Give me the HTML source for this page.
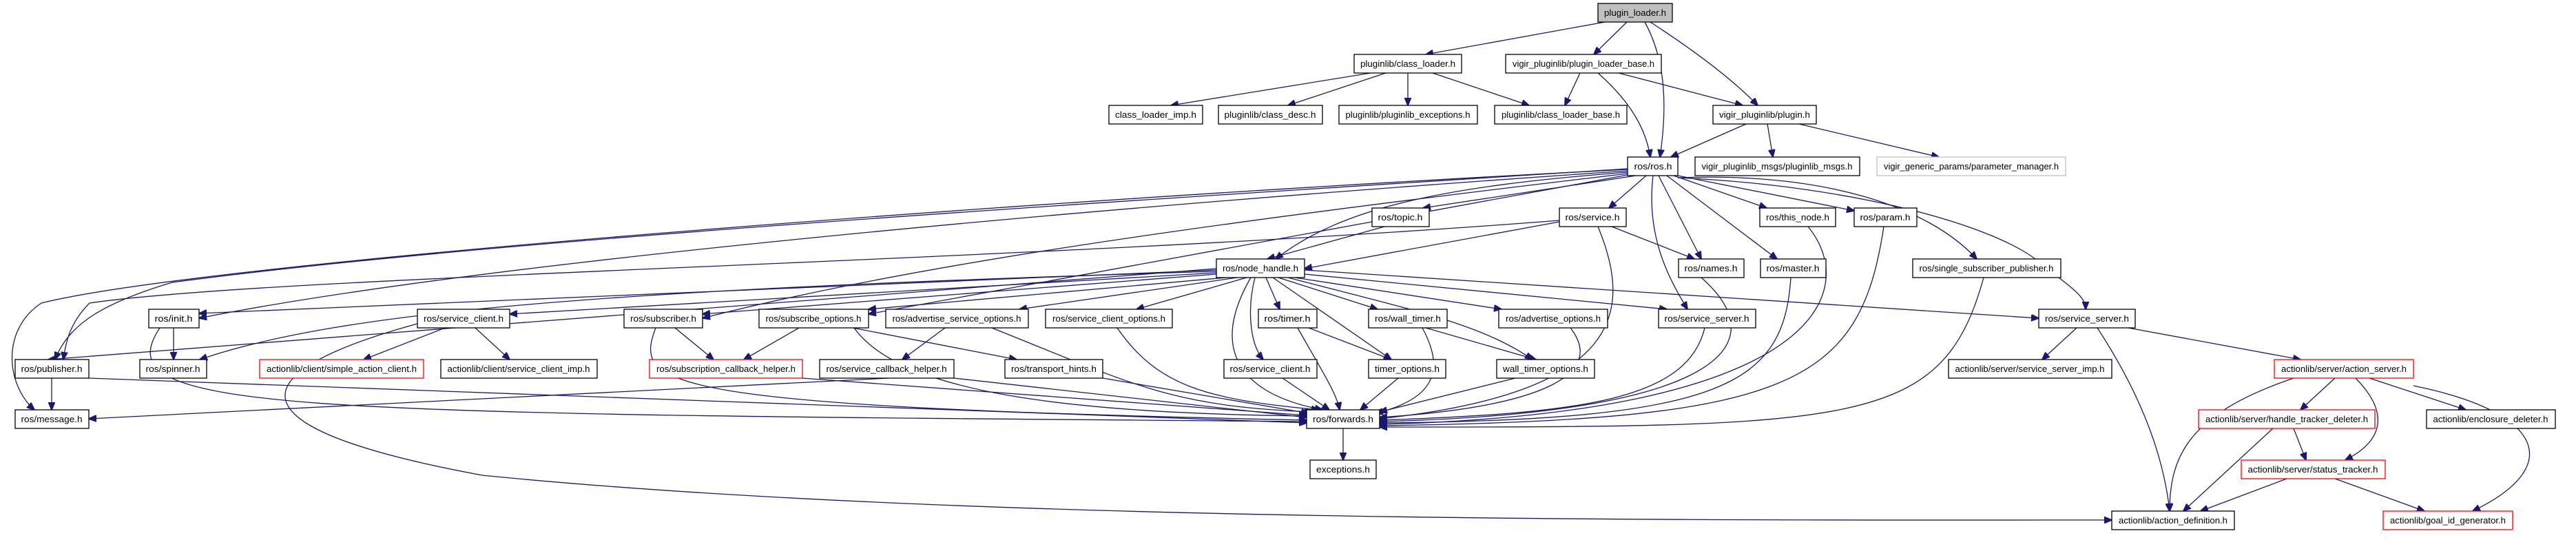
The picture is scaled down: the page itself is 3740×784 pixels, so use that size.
<!DOCTYPE html>
<html><head><meta charset="utf-8"><style>
html,body{margin:0;padding:0;background:#fff;}
svg{display:block;}
text{font-family:"Liberation Sans",Arial,sans-serif;font-size:13px;fill:#000;}
.e{stroke:#191970;stroke-width:1.3;fill:none;marker-end:url(#a);}
.n{fill:#fff;stroke:#000;stroke-width:1.3;}
.r{fill:#fff;stroke:#f00;stroke-width:1.3;}
.g{fill:#fff;stroke:#bfbfbf;stroke-width:1.3;}
.s{fill:#404040;}
</style></head><body>
<svg width="3740" height="784" viewBox="0 0 3740 784" xmlns="http://www.w3.org/2000/svg">
<defs><marker id="a" markerUnits="userSpaceOnUse" markerWidth="12" markerHeight="10" refX="11" refY="5" orient="auto"><path d="M0,0 L12,5 L0,10 z" fill="#191970" stroke="#191970"/></marker></defs>
<g>
<line class="e" x1="2330" y1="32" x2="2070" y2="79"/>
<line class="e" x1="2362" y1="32" x2="2314" y2="79"/>
<path class="e" d="M2388,32 C2420,90 2420,160 2410,228"/>
<path class="e" d="M2396,32 C2470,80 2520,120 2552,153"/>
<line class="e" x1="1990" y1="106" x2="1700" y2="153"/>
<line class="e" x1="2012" y1="106" x2="1870" y2="153"/>
<line class="e" x1="2044" y1="106" x2="2044" y2="153"/>
<line class="e" x1="2080" y1="106" x2="2220" y2="153"/>
<line class="e" x1="2294" y1="106" x2="2272" y2="153"/>
<path class="e" d="M2320,106 C2370,150 2390,190 2396,228"/>
<line class="e" x1="2350" y1="106" x2="2530" y2="153"/>
<line class="e" x1="2535" y1="180" x2="2426" y2="228"/>
<line class="e" x1="2566" y1="180" x2="2574" y2="228"/>
<line class="e" x1="2612" y1="180" x2="2815" y2="228"/>
<line class="e" x1="2375" y1="255" x2="2066" y2="302"/>
<line class="e" x1="2390" y1="255" x2="2336" y2="302"/>
<line class="e" x1="2430" y1="255" x2="2565" y2="302"/>
<line class="e" x1="2436" y1="255" x2="2692" y2="306"/>
<path class="e" d="M2363,250 C2100,270 1950,300 1852,376"/>
<line class="e" x1="2408" y1="255" x2="2470" y2="376"/>
<line class="e" x1="2420" y1="255" x2="2580" y2="376"/>
<path class="e" d="M2436,258 C2650,250 2800,300 2870,376"/>
<path class="e" d="M2400,255 C2390,340 2420,400 2450,449"/>
<path class="e" d="M2436,258 C2700,270 2900,330 2960,380 C3010,420 3028,430 3028,449"/>
<path class="e" d="M2363,245 C1500,300 700,350 250,410 C150,440 100,470 80,522"/>
<path class="e" d="M2363,248 C1600,300 700,380 289,462"/>
<path class="e" d="M2363,252 C1700,330 1300,390 1020,462"/>
<line class="e" x1="2363" y1="254" x2="1261" y2="456"/>
<path class="e" d="M2363,246 C1500,290 300,380 60,440 C0,480 10,560 50,595"/>
<line class="e" x1="2010" y1="329" x2="1840" y2="376"/>
<line class="e" x1="2264" y1="322" x2="1894" y2="390"/>
<line class="e" x1="2340" y1="329" x2="2460" y2="376"/>
<path class="e" d="M2320,329 C2370,450 2360,570 2003,608"/>
<path class="e" d="M2264,320 C1500,380 400,400 130,440 C100,470 95,500 92,522"/>
<line class="e" x1="1766" y1="390" x2="70" y2="522"/>
<line class="e" x1="1766" y1="392" x2="289" y2="455"/>
<path class="e" d="M1766,394 C900,420 500,450 290,522"/>
<line class="e" x1="1766" y1="396" x2="740" y2="456"/>
<line class="e" x1="1766" y1="398" x2="1020" y2="456"/>
<line class="e" x1="1780" y1="403" x2="1261" y2="449"/>
<line class="e" x1="1796" y1="403" x2="1480" y2="449"/>
<line class="e" x1="1810" y1="403" x2="1650" y2="449"/>
<line class="e" x1="1838" y1="403" x2="1858" y2="449"/>
<line class="e" x1="1856" y1="403" x2="2000" y2="449"/>
<line class="e" x1="1880" y1="403" x2="2180" y2="449"/>
<line class="e" x1="1894" y1="398" x2="2420" y2="449"/>
<line class="e" x1="1894" y1="392" x2="2960" y2="462"/>
<line class="e" x1="1848" y1="403" x2="2020" y2="522"/>
<path class="e" d="M1870,403 C2050,450 2150,470 2225,522"/>
<path class="e" d="M1822,403 C1810,450 1815,500 1834,522"/>
<path class="e" d="M1816,403 C1760,500 1790,570 1920,595"/>
<line class="e" x1="252" y1="476" x2="252" y2="522"/>
<path class="e" d="M232,476 C150,600 400,600 1897,612"/>
<line class="e" x1="646" y1="476" x2="528" y2="522"/>
<line class="e" x1="690" y1="476" x2="740" y2="522"/>
<path class="e" d="M606,470 C350,540 320,620 700,690 C1400,760 2500,755 3066,755"/>
<line class="e" x1="980" y1="476" x2="1036" y2="522"/>
<path class="e" d="M952,476 C920,560 950,590 1897,610"/>
<line class="e" x1="1160" y1="476" x2="1080" y2="522"/>
<line class="e" x1="1238" y1="476" x2="1476" y2="522"/>
<path class="e" d="M1240,476 C1300,560 1500,600 1900,604"/>
<line class="e" x1="1372" y1="476" x2="1310" y2="522"/>
<path class="e" d="M1440,476 C1650,560 1700,590 1905,598"/>
<path class="e" d="M1622,476 C1680,560 1750,580 1915,595"/>
<line class="e" x1="1290" y1="549" x2="129" y2="608"/>
<line class="e" x1="1385" y1="549" x2="1897" y2="606"/>
<line class="e" x1="1165" y1="549" x2="1897" y2="603"/>
<line class="e" x1="1601" y1="549" x2="1900" y2="600"/>
<line class="e" x1="75" y1="549" x2="75" y2="595"/>
<line class="e" x1="129" y1="549" x2="1897" y2="614"/>
<line class="e" x1="1900" y1="476" x2="2020" y2="522"/>
<path class="e" d="M1884,476 C1920,540 1940,570 1945,595"/>
<line class="e" x1="2070" y1="476" x2="2230" y2="522"/>
<path class="e" d="M2065,476 C2100,540 2080,580 1997,600"/>
<path class="e" d="M2280,476 C2330,540 2250,590 2003,606"/>
<path class="e" d="M2475,476 C2450,580 2300,600 2003,610"/>
<line class="e" x1="1862" y1="549" x2="1930" y2="595"/>
<line class="e" x1="2030" y1="549" x2="1975" y2="595"/>
<line class="e" x1="2200" y1="549" x2="2003" y2="598"/>
<path class="e" d="M2470,403 C2580,500 2500,600 2003,612"/>
<path class="e" d="M2600,403 C2590,560 2500,610 2003,614"/>
<path class="e" d="M2625,329 C2700,420 2650,600 2003,616"/>
<path class="e" d="M2735,329 C2700,560 2600,610 2003,618"/>
<path class="e" d="M2880,403 C2820,620 2700,620 2003,620"/>
<line class="e" x1="1950" y1="622" x2="1950" y2="668"/>
<line class="e" x1="3015" y1="476" x2="2965" y2="522"/>
<path class="e" d="M3045,476 C3100,560 3140,650 3150,742"/>
<line class="e" x1="3090" y1="476" x2="3340" y2="522"/>
<path class="e" d="M3330,549 C3180,600 3150,660 3150,742"/>
<line class="e" x1="3390" y1="549" x2="3340" y2="595"/>
<path class="e" d="M3420,549 C3470,600 3460,640 3405,668"/>
<line class="e" x1="3440" y1="549" x2="3580" y2="595"/>
<path class="e" d="M3504,560 C3700,600 3720,680 3590,742"/>
<line class="e" x1="3300" y1="622" x2="3170" y2="742"/>
<line class="e" x1="3330" y1="622" x2="3348" y2="668"/>
<line class="e" x1="3320" y1="695" x2="3195" y2="742"/>
<line class="e" x1="3390" y1="695" x2="3520" y2="742"/>
</g>
<g>
<rect x="2320" y="5" width="108" height="27" fill="#bfbfbf" stroke="#000" stroke-width="1.3"/><text x="2374" y="23" text-anchor="middle" textLength="90" lengthAdjust="spacingAndGlyphs">plugin_loader.h</text>
<rect class="n" x="1966" y="79" width="156" height="27"/><text x="2044" y="97" text-anchor="middle" textLength="138" lengthAdjust="spacingAndGlyphs">pluginlib/class_loader.h</text>
<rect class="n" x="2186" y="79" width="226" height="27"/><text x="2299" y="97" text-anchor="middle" textLength="206" lengthAdjust="spacingAndGlyphs">vigir_pluginlib/plugin_loader_base.h</text>
<rect class="n" x="1610" y="153" width="136" height="27"/><text x="1678" y="171" text-anchor="middle" textLength="118" lengthAdjust="spacingAndGlyphs">class_loader_imp.h</text>
<rect class="n" x="1769" y="153" width="151" height="27"/><text x="1844" y="171" text-anchor="middle" textLength="133" lengthAdjust="spacingAndGlyphs">pluginlib/class_desc.h</text>
<rect class="n" x="1944" y="153" width="201" height="27"/><text x="2044" y="171" text-anchor="middle" textLength="181" lengthAdjust="spacingAndGlyphs">pluginlib/pluginlib_exceptions.h</text>
<rect class="n" x="2170" y="153" width="192" height="27"/><text x="2266" y="171" text-anchor="middle" textLength="172" lengthAdjust="spacingAndGlyphs">pluginlib/class_loader_base.h</text>
<rect class="n" x="2487" y="153" width="150" height="27"/><text x="2562" y="171" text-anchor="middle" textLength="132" lengthAdjust="spacingAndGlyphs">vigir_pluginlib/plugin.h</text>
<rect class="n" x="2363" y="228" width="73" height="27"/><text x="2400" y="246" text-anchor="middle" textLength="55" lengthAdjust="spacingAndGlyphs">ros/ros.h</text>
<rect class="n" x="2461" y="228" width="239" height="27"/><text x="2580" y="246" text-anchor="middle" textLength="219" lengthAdjust="spacingAndGlyphs">vigir_pluginlib_msgs/pluginlib_msgs.h</text>
<rect class="g" x="2725" y="228" width="274" height="27"/><text x="2862" y="246" text-anchor="middle" textLength="254" lengthAdjust="spacingAndGlyphs">vigir_generic_params/parameter_manager.h</text>
<rect class="n" x="1992" y="302" width="83" height="27"/><text x="2033" y="320" text-anchor="middle" textLength="65" lengthAdjust="spacingAndGlyphs">ros/topic.h</text>
<rect class="n" x="2264" y="302" width="97" height="27"/><text x="2312" y="320" text-anchor="middle" textLength="79" lengthAdjust="spacingAndGlyphs">ros/service.h</text>
<rect class="n" x="2555" y="302" width="110" height="27"/><text x="2610" y="320" text-anchor="middle" textLength="92" lengthAdjust="spacingAndGlyphs">ros/this_node.h</text>
<rect class="n" x="2692" y="302" width="91" height="27"/><text x="2737" y="320" text-anchor="middle" textLength="73" lengthAdjust="spacingAndGlyphs">ros/param.h</text>
<rect class="n" x="1766" y="376" width="128" height="27"/><text x="1830" y="394" text-anchor="middle" textLength="110" lengthAdjust="spacingAndGlyphs">ros/node_handle.h</text>
<rect class="n" x="2437" y="376" width="95" height="27"/><text x="2484" y="394" text-anchor="middle" textLength="77" lengthAdjust="spacingAndGlyphs">ros/names.h</text>
<rect class="n" x="2556" y="376" width="95" height="27"/><text x="2603" y="394" text-anchor="middle" textLength="77" lengthAdjust="spacingAndGlyphs">ros/master.h</text>
<rect class="n" x="2777" y="376" width="215" height="27"/><text x="2884" y="394" text-anchor="middle" textLength="195" lengthAdjust="spacingAndGlyphs">ros/single_subscriber_publisher.h</text>
<rect class="n" x="216" y="449" width="73" height="27"/><text x="252" y="467" text-anchor="middle" textLength="55" lengthAdjust="spacingAndGlyphs">ros/init.h</text>
<rect class="n" x="606" y="449" width="134" height="27"/><text x="673" y="467" text-anchor="middle" textLength="116" lengthAdjust="spacingAndGlyphs">ros/service_client.h</text>
<rect class="n" x="906" y="449" width="114" height="27"/><text x="963" y="467" text-anchor="middle" textLength="96" lengthAdjust="spacingAndGlyphs">ros/subscriber.h</text>
<rect class="n" x="1102" y="449" width="159" height="27"/><text x="1181" y="467" text-anchor="middle" textLength="139" lengthAdjust="spacingAndGlyphs">ros/subscribe_options.h</text>
<rect class="n" x="1286" y="449" width="207" height="27"/><text x="1389" y="467" text-anchor="middle" textLength="187" lengthAdjust="spacingAndGlyphs">ros/advertise_service_options.h</text>
<rect class="n" x="1518" y="449" width="184" height="27"/><text x="1610" y="467" text-anchor="middle" textLength="164" lengthAdjust="spacingAndGlyphs">ros/service_client_options.h</text>
<rect class="n" x="1827" y="449" width="85" height="27"/><text x="1869" y="467" text-anchor="middle" textLength="67" lengthAdjust="spacingAndGlyphs">ros/timer.h</text>
<rect class="n" x="1987" y="449" width="114" height="27"/><text x="2044" y="467" text-anchor="middle" textLength="96" lengthAdjust="spacingAndGlyphs">ros/wall_timer.h</text>
<rect class="n" x="2176" y="449" width="158" height="27"/><text x="2255" y="467" text-anchor="middle" textLength="138" lengthAdjust="spacingAndGlyphs">ros/advertise_options.h</text>
<rect class="n" x="2408" y="449" width="141" height="27"/><text x="2478" y="467" text-anchor="middle" textLength="123" lengthAdjust="spacingAndGlyphs">ros/service_server.h</text>
<rect class="n" x="2960" y="449" width="140" height="27"/><text x="3030" y="467" text-anchor="middle" textLength="122" lengthAdjust="spacingAndGlyphs">ros/service_server.h</text>
<rect class="n" x="22" y="522" width="107" height="27"/><text x="75" y="540" text-anchor="middle" textLength="89" lengthAdjust="spacingAndGlyphs">ros/publisher.h</text>
<rect class="n" x="203" y="522" width="97" height="27"/><text x="251" y="540" text-anchor="middle" textLength="79" lengthAdjust="spacingAndGlyphs">ros/spinner.h</text>
<rect class="r" x="377" y="522" width="238" height="27"/><text x="496" y="540" text-anchor="middle" textLength="218" lengthAdjust="spacingAndGlyphs">actionlib/client/simple_action_client.h</text>
<rect class="n" x="640" y="522" width="227" height="27"/><text x="753" y="540" text-anchor="middle" textLength="207" lengthAdjust="spacingAndGlyphs">actionlib/client/service_client_imp.h</text>
<rect class="r" x="943" y="522" width="222" height="27"/><text x="1054" y="540" text-anchor="middle" textLength="202" lengthAdjust="spacingAndGlyphs">ros/subscription_callback_helper.h</text>
<rect class="n" x="1190" y="522" width="195" height="27"/><text x="1287" y="540" text-anchor="middle" textLength="175" lengthAdjust="spacingAndGlyphs">ros/service_callback_helper.h</text>
<rect class="n" x="1459" y="522" width="142" height="27"/><text x="1530" y="540" text-anchor="middle" textLength="124" lengthAdjust="spacingAndGlyphs">ros/transport_hints.h</text>
<rect class="n" x="1777" y="522" width="135" height="27"/><text x="1844" y="540" text-anchor="middle" textLength="117" lengthAdjust="spacingAndGlyphs">ros/service_client.h</text>
<rect class="n" x="1987" y="522" width="112" height="27"/><text x="2043" y="540" text-anchor="middle" textLength="94" lengthAdjust="spacingAndGlyphs">timer_options.h</text>
<rect class="n" x="2173" y="522" width="142" height="27"/><text x="2244" y="540" text-anchor="middle" textLength="124" lengthAdjust="spacingAndGlyphs">wall_timer_options.h</text>
<rect class="n" x="2829" y="522" width="237" height="27"/><text x="2947" y="540" text-anchor="middle" textLength="217" lengthAdjust="spacingAndGlyphs">actionlib/server/service_server_imp.h</text>
<rect class="r" x="3302" y="522" width="202" height="27"/><text x="3403" y="540" text-anchor="middle" textLength="182" lengthAdjust="spacingAndGlyphs">actionlib/server/action_server.h</text>
<rect class="n" x="22" y="595" width="107" height="27"/><text x="75" y="613" text-anchor="middle" textLength="89" lengthAdjust="spacingAndGlyphs">ros/message.h</text>
<rect class="n" x="1897" y="595" width="106" height="27"/><text x="1950" y="613" text-anchor="middle" textLength="88" lengthAdjust="spacingAndGlyphs">ros/forwards.h</text>
<rect class="r" x="3192" y="595" width="256" height="27"/><text x="3320" y="613" text-anchor="middle" textLength="236" lengthAdjust="spacingAndGlyphs">actionlib/server/handle_tracker_deleter.h</text>
<rect class="n" x="3523" y="595" width="187" height="27"/><text x="3616" y="613" text-anchor="middle" textLength="167" lengthAdjust="spacingAndGlyphs">actionlib/enclosure_deleter.h</text>
<rect class="n" x="1902" y="668" width="96" height="27"/><text x="1950" y="686" text-anchor="middle" textLength="78" lengthAdjust="spacingAndGlyphs">exceptions.h</text>
<rect class="r" x="3254" y="668" width="209" height="27"/><text x="3358" y="686" text-anchor="middle" textLength="189" lengthAdjust="spacingAndGlyphs">actionlib/server/status_tracker.h</text>
<rect class="n" x="3066" y="742" width="178" height="27"/><text x="3155" y="760" text-anchor="middle" textLength="158" lengthAdjust="spacingAndGlyphs">actionlib/action_definition.h</text>
<rect class="r" x="3460" y="742" width="188" height="27"/><text x="3554" y="760" text-anchor="middle" textLength="168" lengthAdjust="spacingAndGlyphs">actionlib/goal_id_generator.h</text>
</g>
</svg>
</body></html>
